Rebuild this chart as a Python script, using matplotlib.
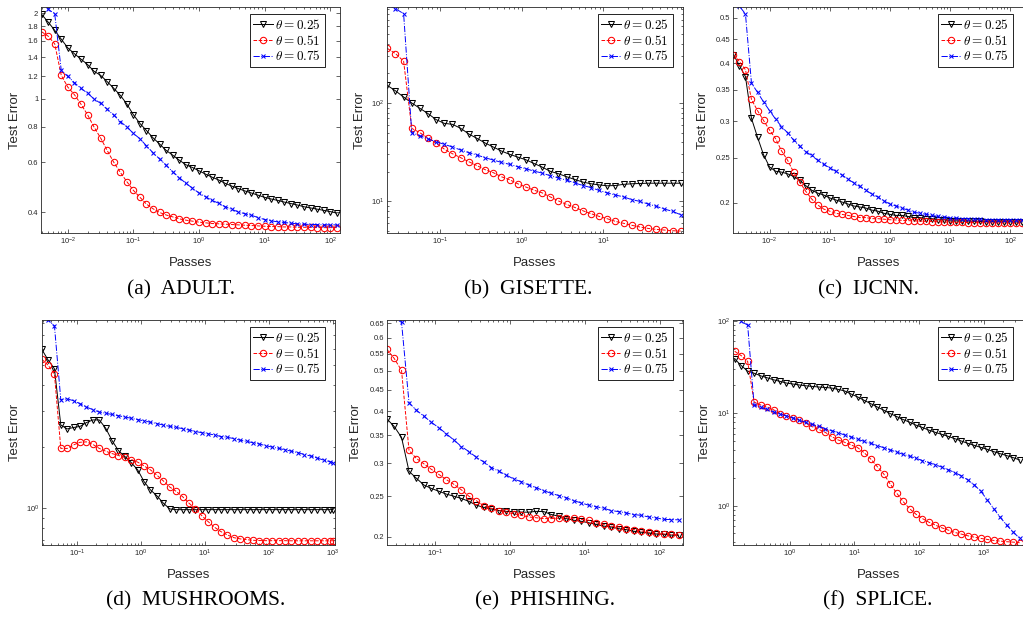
"""Test error vs. passes for three theta values on six datasets (2x3 log-log panels)."""

import matplotlib

matplotlib.use("Agg")
import matplotlib.pyplot as plt
from matplotlib.ticker import (FixedFormatter, FixedLocator, LogLocator,
                               NullFormatter, NullLocator)

plt.rcParams["font.family"] = ["Liberation Sans", "DejaVu Sans"]
plt.rcParams["mathtext.fontset"] = "cm"

# ---- data (passes, test error) ----
LABELS = [r"$\theta = 0.25$", r"$\theta = 0.51$", r"$\theta = 0.75$"]

# (a) ADULT
X_A = [0.00398, 0.00501, 0.00631, 0.00794, 0.01, 0.0126, 0.0158, 0.02, 0.0251, 0.0316,
       0.0398, 0.0501, 0.0631, 0.0794, 0.1, 0.126, 0.158, 0.2, 0.251, 0.316,
       0.398, 0.501, 0.631, 0.794, 1.0, 1.26, 1.58, 2.0, 2.51, 3.16,
       3.98, 5.01, 6.31, 7.94, 10.0, 12.6, 15.8, 20.0, 25.1, 31.6,
       39.8, 50.1, 63.1, 79.4, 100.0, 126.0]
A_K = [1.98, 1.86, 1.74, 1.62, 1.51, 1.44, 1.38, 1.32, 1.25, 1.21,
       1.15, 1.09, 1.03, 0.96, 0.88, 0.82, 0.775, 0.73, 0.695, 0.66,
       0.635, 0.61, 0.588, 0.575, 0.56, 0.545, 0.532, 0.52, 0.506, 0.495,
       0.485, 0.476, 0.468, 0.46, 0.452, 0.446, 0.441, 0.435, 0.43, 0.425,
       0.419, 0.415, 0.411, 0.407, 0.403, 0.398]
A_R = [1.72, 1.66, 1.56, 1.21, 1.10, 1.035, 0.96, 0.88, 0.797, 0.73,
       0.66, 0.60, 0.553, 0.513, 0.478, 0.452, 0.428, 0.412, 0.40, 0.392,
       0.386, 0.38, 0.376, 0.373, 0.370, 0.368, 0.366, 0.365, 0.364, 0.363,
       0.362, 0.361, 0.36, 0.359, 0.358, 0.357, 0.357, 0.356, 0.356, 0.355,
       0.355, 0.355, 0.354, 0.354, 0.354, 0.354]
A_B = [2.25, 2.06, 1.99, 1.26, 1.20, 1.14, 1.09, 1.047, 1.0, 0.965,
       0.92, 0.878, 0.833, 0.798, 0.757, 0.725, 0.685, 0.647, 0.616, 0.585,
       0.555, 0.53, 0.506, 0.487, 0.468, 0.454, 0.441, 0.431, 0.419, 0.41,
       0.402, 0.396, 0.391, 0.384, 0.378, 0.374, 0.371, 0.369, 0.367, 0.365,
       0.364, 0.363, 0.363, 0.362, 0.362, 0.362]

# (b) GISETTE
X_B = [0.0224, 0.0282, 0.0355, 0.0447, 0.0562, 0.0708, 0.0891, 0.112, 0.141, 0.178,
       0.224, 0.282, 0.355, 0.447, 0.562, 0.708, 0.891, 1.12, 1.41, 1.78,
       2.24, 2.82, 3.55, 4.47, 5.62, 7.08, 8.91, 11.2, 14.1, 17.8,
       22.4, 28.2, 35.5, 44.7, 56.2, 70.8, 89.1]
B_K = [151, 133, 115, 100, 88.3, 78, 67.7, 62.1, 60.7, 55.3,
       48.4, 43.7, 39.2, 35.7, 32.5, 30.1, 28.2, 26.5, 24.3, 22.3,
       20.2, 19.1, 17.8, 16.7, 15.7, 15.1, 14.7, 14.4, 14.5, 14.9,
       15.1, 15.2, 15.3, 15.3, 15.3, 15.3, 15.3]
B_R = [359, 318, 266, 55.2, 49.9, 44, 38.9, 34, 30.5, 27.8,
       25.3, 23.1, 21, 19.6, 17.8, 16.6, 15.1, 14, 13, 12.2,
       11.1, 10.1, 9.31, 8.68, 8.03, 7.49, 7.03, 6.66, 6.26, 5.98,
       5.71, 5.49, 5.31, 5.19, 5.11, 5.03, 4.99]
B_B = [1000, 910, 809, 49.9, 46.5, 43.1, 40.4, 38, 35.7, 33.3,
       31.3, 29.6, 27.8, 26.3, 24.9, 23.8, 22.5, 21.5, 20.3, 19.4,
       18.2, 17.3, 16.4, 15.4, 14.5, 13.8, 12.9, 12.2, 11.6, 11.1,
       10.4, 10, 9.4, 8.9, 8.36, 7.91, 7.31]

# (c) IJCNN
X_C = [0.00251, 0.00316, 0.00398, 0.00501, 0.00631, 0.00794, 0.01, 0.0126, 0.0158, 0.02,
       0.0251, 0.0316, 0.0398, 0.0501, 0.0631, 0.0794, 0.1, 0.126, 0.158, 0.2,
       0.251, 0.316, 0.398, 0.501, 0.631, 0.794, 1.0, 1.26, 1.58, 2.0,
       2.51, 3.16, 3.98, 5.01, 6.31, 7.94, 10.0, 12.6, 15.8, 20.0,
       25.1, 31.6, 39.8, 50.1, 63.1, 79.4, 100.0, 126.0, 158.0]
C_K = [0.417, 0.395, 0.374, 0.304, 0.277, 0.254, 0.239, 0.234, 0.233, 0.231,
       0.228, 0.224, 0.218, 0.213, 0.21, 0.208, 0.205, 0.203, 0.201, 0.199,
       0.197, 0.196, 0.195, 0.193, 0.192, 0.190, 0.189, 0.188, 0.188, 0.187,
       0.186, 0.186, 0.185, 0.185, 0.184, 0.184, 0.183, 0.183, 0.183, 0.1828,
       0.1826, 0.1825, 0.1824, 0.1823, 0.1822, 0.1822, 0.1821, 0.182, 0.182]
C_R = [0.417, 0.403, 0.387, 0.334, 0.316, 0.301, 0.287, 0.275, 0.259, 0.247,
       0.233, 0.222, 0.212, 0.204, 0.198, 0.194, 0.192, 0.190, 0.189, 0.188,
       0.187, 0.186, 0.186, 0.185, 0.185, 0.1845, 0.184, 0.1838, 0.1835, 0.1832,
       0.183, 0.1828, 0.1826, 0.1824, 0.1822, 0.182, 0.1818, 0.1817, 0.1816, 0.1815,
       0.1814, 0.1813, 0.1812, 0.1812, 0.1811, 0.1811, 0.181, 0.181, 0.181]
C_B = [0.56, 0.53, 0.51, 0.362, 0.346, 0.330, 0.316, 0.303, 0.292, 0.283,
       0.273, 0.265, 0.258, 0.253, 0.247, 0.242, 0.238, 0.234, 0.230, 0.225,
       0.221, 0.217, 0.213, 0.209, 0.206, 0.202, 0.199, 0.197, 0.195, 0.193,
       0.191, 0.19, 0.189, 0.188, 0.187, 0.1865, 0.186, 0.1855, 0.185, 0.185,
       0.1845, 0.1845, 0.184, 0.184, 0.184, 0.184, 0.184, 0.184, 0.184]

# (d) MUSHROOMS
X_D = [0.0282, 0.0355, 0.0447, 0.0562, 0.0708, 0.0891, 0.112, 0.141, 0.178, 0.224,
       0.282, 0.355, 0.447, 0.562, 0.708, 0.891, 1.12, 1.41, 1.78, 2.24,
       2.82, 3.55, 4.47, 5.62, 7.08, 8.91, 11.2, 14.1, 17.8, 22.4,
       28.2, 35.5, 44.7, 56.2, 70.8, 89.1, 112, 141, 178, 224,
       282, 355, 447, 562, 708, 891, 1000]
D_K = [5.99, 5.3, 4.8, 2.55, 2.44, 2.48, 2.51, 2.62, 2.70, 2.70,
       2.46, 2.14, 1.91, 1.79, 1.67, 1.54, 1.35, 1.23, 1.15, 1.06,
       0.993, 0.985, 0.985, 0.985, 0.985, 0.985, 0.985, 0.985, 0.985, 0.985,
       0.985, 0.985, 0.985, 0.985, 0.985, 0.985, 0.985, 0.985, 0.985, 0.985,
       0.985, 0.985, 0.985, 0.985, 0.985, 0.985, 0.985]
D_R = [5.35, 5.0, 4.52, 1.96, 1.96, 2.04, 2.10, 2.11, 2.05, 1.96,
       1.90, 1.85, 1.81, 1.77, 1.73, 1.68, 1.61, 1.54, 1.45, 1.36,
       1.27, 1.21, 1.14, 1.06, 0.993, 0.921, 0.861, 0.808, 0.769, 0.741,
       0.719, 0.709, 0.703, 0.698, 0.696, 0.695, 0.695, 0.695, 0.695, 0.694,
       0.694, 0.694, 0.694, 0.694, 0.694, 0.694, 0.694]
D_B = [9.5, 8.3, 7.78, 3.39, 3.42, 3.35, 3.24, 3.12, 3.03, 2.95,
       2.91, 2.87, 2.83, 2.79, 2.75, 2.71, 2.67, 2.63, 2.59, 2.55,
       2.51, 2.48, 2.45, 2.41, 2.37, 2.34, 2.31, 2.28, 2.24, 2.22,
       2.19, 2.15, 2.12, 2.09, 2.06, 2.02, 1.99, 1.96, 1.93, 1.90,
       1.87, 1.83, 1.80, 1.76, 1.72, 1.69, 1.67]

# (e) PHISHING
X_E = [0.0224, 0.0282, 0.0355, 0.0447, 0.0562, 0.0708, 0.0891, 0.112, 0.141, 0.178,
       0.224, 0.282, 0.355, 0.447, 0.562, 0.708, 0.891, 1.12, 1.41, 1.78,
       2.24, 2.82, 3.55, 4.47, 5.62, 7.08, 8.91, 11.2, 14.1, 17.8,
       22.4, 28.2, 35.5, 44.7, 56.2, 70.8, 89.1, 112, 141, 178]
E_K = [0.384, 0.368, 0.346, 0.287, 0.276, 0.266, 0.261, 0.257, 0.253, 0.250,
       0.247, 0.243, 0.238, 0.235, 0.233, 0.231, 0.23, 0.2297, 0.229, 0.229,
       0.230, 0.2297, 0.226, 0.224, 0.221, 0.219, 0.2177, 0.216, 0.214, 0.212,
       0.211, 0.209, 0.208, 0.206, 0.205, 0.204, 0.203, 0.2026, 0.2018, 0.2015]
E_R = [0.564, 0.536, 0.501, 0.322, 0.308, 0.299, 0.290, 0.282, 0.274, 0.267,
       0.259, 0.250, 0.244, 0.237, 0.234, 0.231, 0.229, 0.227, 0.225, 0.223,
       0.222, 0.221, 0.221, 0.2215, 0.222, 0.2215, 0.220, 0.219, 0.216, 0.214,
       0.212, 0.211, 0.209, 0.208, 0.2066, 0.205, 0.204, 0.203, 0.2026, 0.2018]
E_B = [0.72, 0.672, 0.653, 0.419, 0.402, 0.389, 0.376, 0.365, 0.353, 0.341,
       0.329, 0.320, 0.310, 0.302, 0.293, 0.287, 0.281, 0.275, 0.271, 0.266,
       0.262, 0.258, 0.254, 0.251, 0.248, 0.244, 0.241, 0.238, 0.236, 0.234,
       0.231, 0.2297, 0.228, 0.226, 0.225, 0.223, 0.222, 0.220, 0.2198, 0.2195]

# (f) SPLICE
X_F = [0.141, 0.178, 0.224, 0.282, 0.355, 0.447, 0.562, 0.708, 0.891, 1.12,
       1.41, 1.78, 2.24, 2.82, 3.55, 4.47, 5.62, 7.08, 8.91, 11.2,
       14.1, 17.8, 22.4, 28.2, 35.5, 44.7, 56.2, 70.8, 89.1, 112,
       141, 178, 224, 282, 355, 447, 562, 708, 891, 1122,
       1413, 1778, 2239, 2818, 3548]
F_K = [38.7, 32.8, 28.5, 27.1, 25.4, 24.2, 23.0, 22.1, 21.2, 20.7,
       20.2, 19.8, 19.5, 19.2, 19.0, 18.7, 18.1, 17.4, 16.1, 15.0,
       13.8, 12.7, 11.7, 10.8, 9.92, 9.21, 8.55, 8.0, 7.43, 7.01,
       6.56, 6.2, 5.9, 5.61, 5.3, 5.0, 4.72, 4.49, 4.27, 4.07,
       3.84, 3.65, 3.48, 3.31, 3.12]
F_R = [46.8, 42.0, 36.3, 13.2, 12.3, 11.7, 10.9, 9.92, 9.36, 8.91,
       8.34, 7.8, 7.13, 6.67, 6.2, 5.57, 5.13, 4.84, 4.53, 4.24,
       3.74, 3.2, 2.65, 2.21, 1.72, 1.37, 1.11, 0.929, 0.807, 0.725,
       0.662, 0.615, 0.575, 0.543, 0.513, 0.492, 0.472, 0.456, 0.442, 0.431,
       0.42, 0.413, 0.407, 0.403, 0.397]
F_B = [110, 98.4, 89.8, 12.2, 11.6, 11.0, 10.3, 9.75, 9.36, 8.83,
       8.41, 7.94, 7.55, 7.19, 6.79, 6.46, 6.15, 5.8, 5.52, 5.21,
       4.96, 4.72, 4.46, 4.24, 4.0, 3.81, 3.59, 3.42, 3.26, 3.07,
       2.92, 2.76, 2.61, 2.44, 2.28, 2.1, 1.9, 1.68, 1.43, 1.16,
       0.929, 0.749, 0.615, 0.521, 0.442]

Y_TICKS_A = [0.4, 0.6, 0.8, 1, 1.2, 1.4, 1.6, 1.8, 2]
Y_TICKS_C = [0.2, 0.25, 0.3, 0.35, 0.4, 0.45, 0.5]
Y_TICKS_E = [0.2, 0.25, 0.3, 0.35, 0.4, 0.45, 0.5, 0.55, 0.6, 0.65]

# ---- layout (pixels in a 1023x618 canvas) ----
W, H = 1023, 618
INK = "#262626"
STYLES = [dict(color="k", ls="-", marker="v", ms=4.8),
          dict(color="#FF0000", ls="--", marker="o", ms=4.6),
          dict(color="#0000FF", ls="-.", marker="x", ms=3.4)]

PANELS = [
    # data, axes box (l, t, r, b), xlim, ylim, yticks, ylabel offset, caption (x, y)
    ((X_A, A_K, A_R, A_B), (41, 7, 340, 233), (0.0039, 141), (0.339, 2.10), Y_TICKS_A, 26,
     "(a)  ADULT.", (181, 290)),
    ((X_B, B_K, B_R, B_B), (387, 7, 683, 233), (0.0222, 95), (4.77, 946), None, 27,
     "(b)  GISETTE.", (528, 290)),
    ((X_C, C_K, C_R, C_B), (733, 7, 1024, 233), (0.00247, 170), (0.1723, 0.528), Y_TICKS_C, 30,
     "(c)  IJCNN.", (868, 290)),
    ((X_D, D_K, D_R, D_B), (42, 320, 335, 545), (0.0286, 1070), (0.662, 8.3), None, 27,
     "(d)  MUSHROOMS.", (196, 601)),
    ((X_E, E_K, E_R, E_B), (387, 320, 683, 545), (0.0227, 204), (0.191, 0.662), Y_TICKS_E, 31,
     "(e)  PHISHING.", (545, 601)),
    ((X_F, F_K, F_R, F_B), (733, 320, 1024, 545), (0.133, 4150), (0.375, 102), None, 28,
     "(f)  SPLICE.", (878, 601)),
]


def log_ticks(axis):
    axis.set_major_locator(LogLocator(base=10, numticks=20))
    axis.set_minor_locator(LogLocator(base=10, subs=range(2, 10), numticks=20))
    axis.set_minor_formatter(NullFormatter())


fig = plt.figure(figsize=(W / 100, H / 100), dpi=100)

for (x, *series), (l, t, r, b), xlim, ylim, yticks, yoff, caption, (cx, cy) in PANELS:
    ax = fig.add_axes([l / W, 1 - b / H, (r - l) / W, (b - t) / H])
    for y, st, lab in zip(series, STYLES, LABELS):
        ax.plot(x, y, color=st["color"], ls=st["ls"], lw=0.7, marker=st["marker"],
                ms=st["ms"], mfc="none", mec=st["color"], mew=0.75, label=lab)
    ax.set_xscale("log")
    ax.set_yscale("log")
    ax.set_xlim(*xlim)
    ax.set_ylim(*ylim)
    log_ticks(ax.xaxis)
    if yticks is None:
        log_ticks(ax.yaxis)
    else:
        ax.yaxis.set_major_locator(FixedLocator(yticks))
        ax.yaxis.set_major_formatter(FixedFormatter([f"{v:g}" for v in yticks]))
        ax.yaxis.set_minor_locator(NullLocator())

    # right-hand panels run off the canvas edge, so no right ticks there
    ax.tick_params(which="both", direction="in", top=True, right=r <= W,
                   color=INK, labelcolor=INK, labelsize=5.5, width=0.5, pad=2)
    ax.tick_params(which="major", length=3)
    ax.tick_params(which="minor", length=1.6)
    for sp in ax.spines.values():
        sp.set_color(INK)
        sp.set_linewidth(0.6)

    ax.set_xlabel("Passes", fontsize=9.5, color=INK, va="center")
    ax.xaxis.set_label_coords(0.5, -30 / (b - t))
    ax.set_ylabel("Test Error", fontsize=9.5, color=INK, va="center")
    ax.yaxis.set_label_coords(-yoff / (r - l), 0.5)

    leg_r = min(r, W) - (15 if l < 100 and t < 100 else 10)
    leg = ax.legend(loc="upper right", bbox_to_anchor=(leg_r / W, 1 - (t + 7) / H),
                    bbox_transform=fig.transFigure, borderaxespad=0, fontsize=9.5,
                    numpoints=1, handlelength=1.45, handletextpad=0.2, labelspacing=0.12,
                    borderpad=0.3, fancybox=False, framealpha=1, edgecolor="k")
    leg.get_frame().set_linewidth(0.6)

    fig.text(cx / W, 1 - cy / H, caption, family="Liberation Serif", fontsize=15.5,
             ha="center", va="center", color="k")

fig.savefig("out.png", dpi=100)
